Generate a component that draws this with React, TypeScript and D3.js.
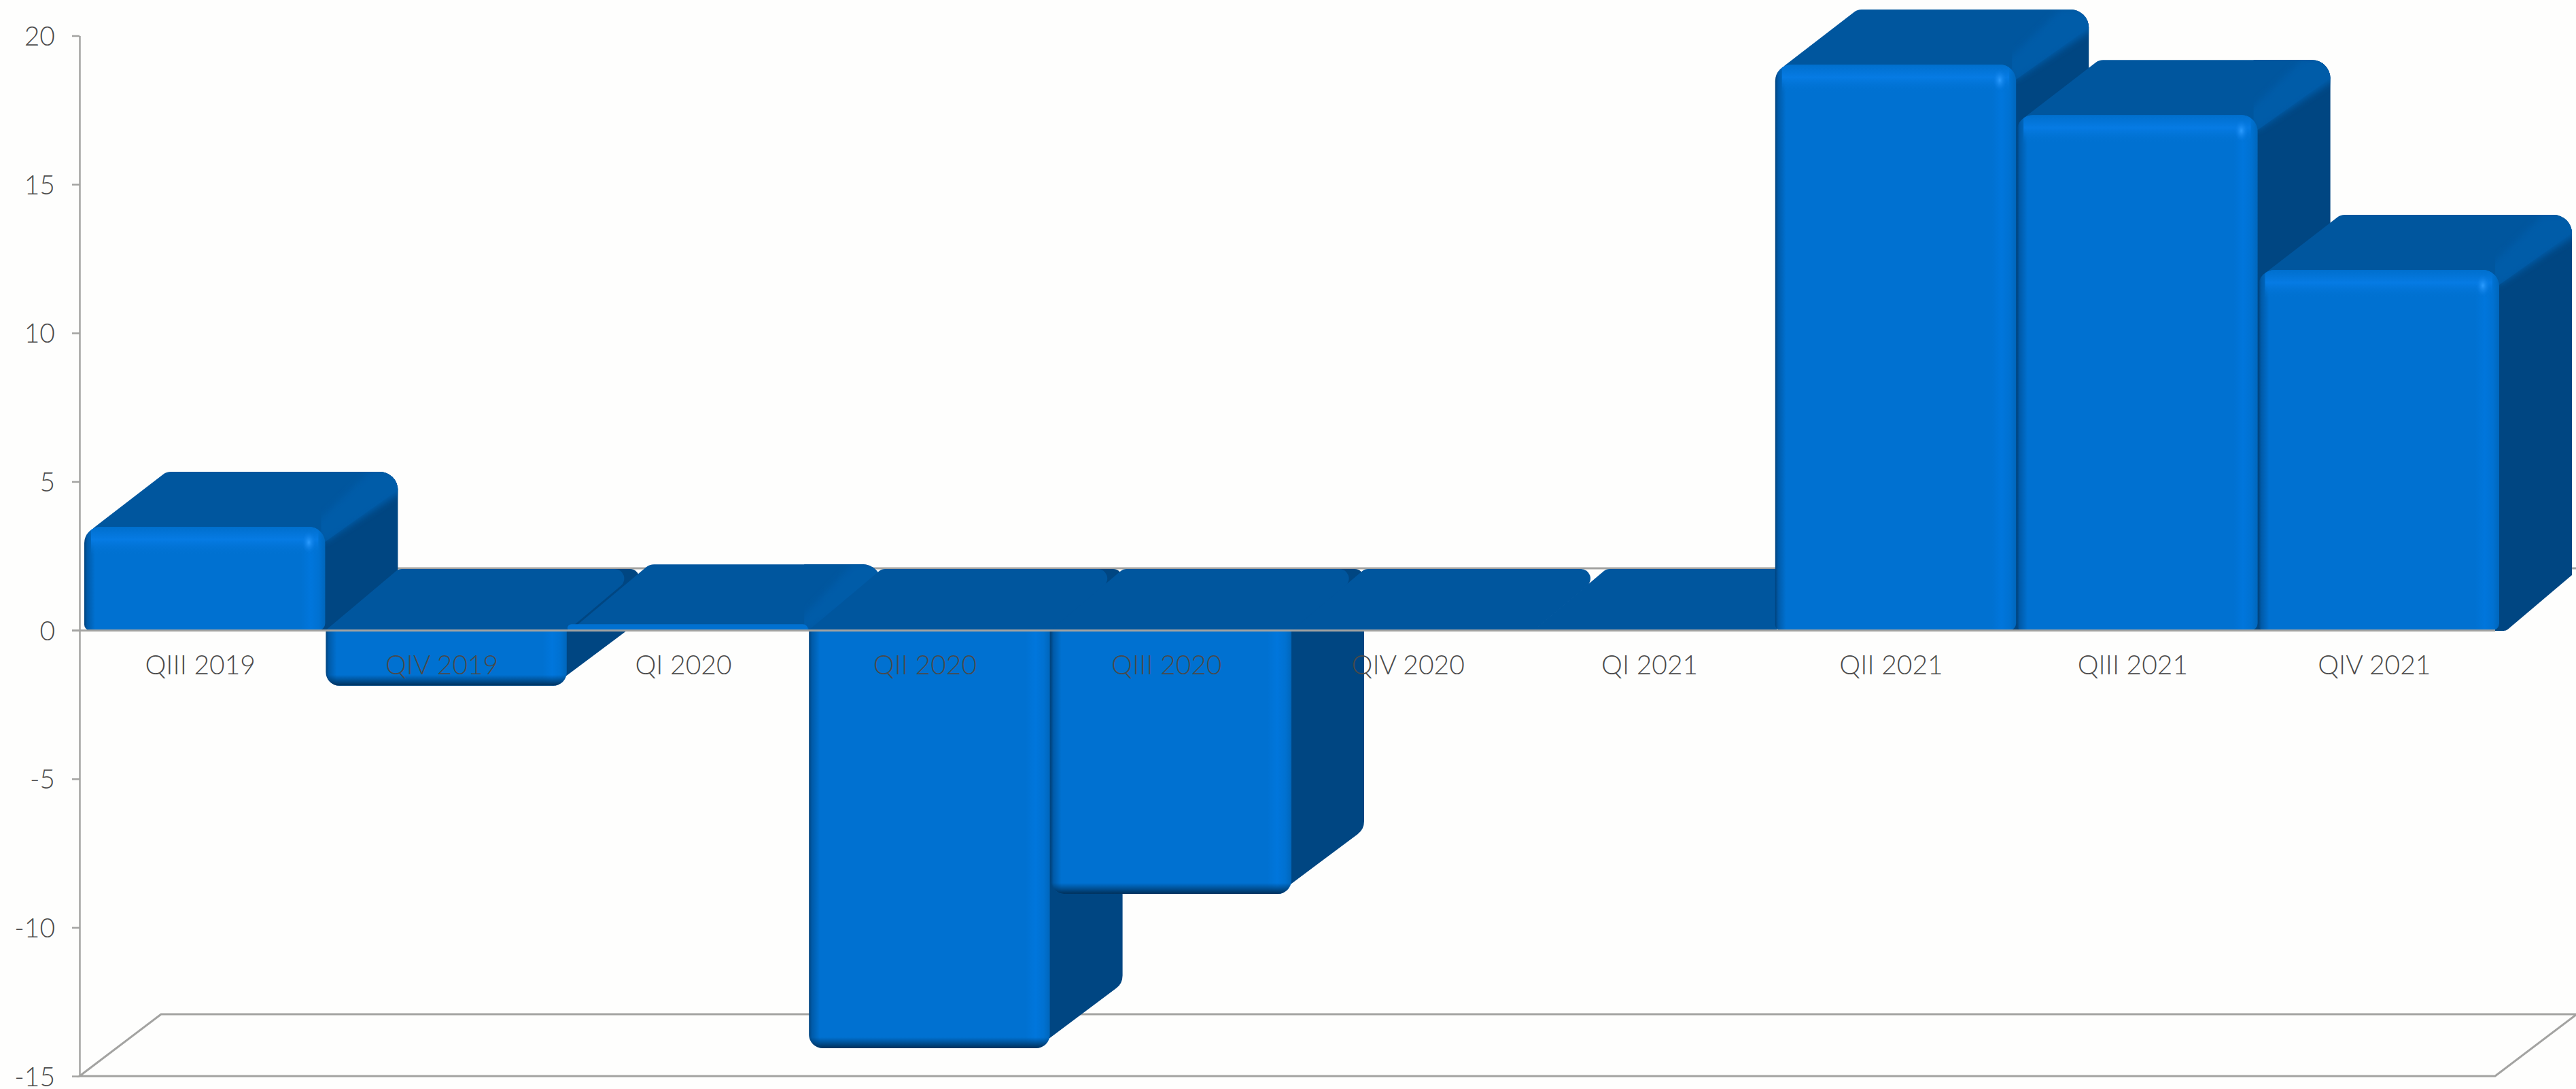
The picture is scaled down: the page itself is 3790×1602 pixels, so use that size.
import { useEffect, useRef } from 'react';
import * as d3 from 'd3';

const categories = ['QIII 2019', 'QIV 2019', 'QI 2020', 'QII 2020', 'QIII 2020', 'QIV 2020', 'QI 2021', 'QII 2021', 'QIII 2021', 'QIV 2021'];
const growth = [3.48, -1.87, 0.2, -14.06, -8.87, 0, 0, 19.03, 17.33, 12.12];
const yTicks = [20, 15, 10, 5, 0, -5, -10, -15];

const WIDTH = 3790;
const HEIGHT = 1602;
const FONT = 'Lato, sans-serif';
const TEXT = '#4a4a4a';
const LINE = '#a3a3a1';
const FRONT = '#0071d1';
const TOP = '#00569e';
const RIDGE = '#005ba8';
const SIDE = '#004682';

// depth of the fake 3d box
const floorDx = 120;
const floorDy = 91;
const barDx = 107;
const barOffset = 7;

type Pt = [number, number];

// closed polygon with rounded corners, r is per corner
function roundPoly(pts: Pt[], r: number[]) {
  const p = d3.path();
  const n = pts.length;
  const a = pts[n - 1];
  const b = pts[0];
  p.moveTo((a[0] + b[0]) / 2, (a[1] + b[1]) / 2);
  for (let i = 0; i < n; i++) {
    const c = pts[i];
    const d = pts[(i + 1) % n];
    p.arcTo(c[0], c[1], (c[0] + d[0]) / 2, (c[1] + d[1]) / 2, r[i]);
  }
  p.closePath();
  return p.toString();
}

export default function App() {
  const svgRef = useRef<SVGSVGElement>(null);

  useEffect(() => {
    if (!svgRef.current) return;
    const svg = d3.select(svgRef.current);
    const root = svg.select<SVGGElement>('g.chart');
    root.selectAll('*').remove();

    const x = d3.scaleBand<string>().domain(categories).range([117, 3671]);
    const y = d3.scaleLinear().domain([-15, 20]).range([1583, 52.5]);
    // top face gets a bit deeper as the bar gets close to zero
    const topDepth = d3.scaleLinear().domain([0, 1]).range([90, 81]).clamp(true);
    const y0 = y(0);
    const yMin = y(-15);
    const xL = x.range()[0];
    const xR = x.range()[1];

    // floor and back wall
    const wall = root.append('g').attr('stroke', LINE).attr('stroke-width', 3).attr('fill', 'none');
    wall.append('path').attr('d', `M${xL},${yMin}L${xL + floorDx},${yMin - floorDy}H${xR + floorDx}L${xR},${yMin}Z`);
    wall.append('line').attr('x1', xL + floorDx).attr('x2', xR + floorDx).attr('y1', y0 - floorDy).attr('y2', y0 - floorDy);

    // y axis
    const axis = root.append('g').attr('transform', `translate(${xL},0)`).call(
      d3.axisLeft(y).tickValues(yTicks).tickSize(11).tickSizeOuter(0).tickPadding(25).tickFormat((d) => String(d))
    );
    axis.select('.domain').attr('stroke', LINE).attr('stroke-width', 2.5);
    axis.selectAll('.tick line').attr('stroke', LINE).attr('stroke-width', 2.5);
    axis.selectAll('.tick text')
      .attr('fill', TEXT).attr('font-family', FONT).attr('font-size', 39).attr('font-weight', 300).attr('dy', '0.36em');

    // bars, painted left to right so each one covers the side of the previous
    categories.forEach((cat, i) => {
      const v = growth[i];
      const bw = x.step() - 1;
      const x0 = (x(cat) as number) + barOffset;
      const x1 = x0 + bw;
      const yv = y(v);
      const g = root.append('g');
      const clipId = `front-${i}`;

      if (v > 0) {
        const dy = topDepth(v);
        const back = yv - dy;
        const shoulder = Math.min(yv + 22, y0);
        const sideShape = roundPoly(
          [[x1 - 6, yv], [x1 - 6, back], [x1 + barDx, back], [x1 + barDx, y0 - 81], [x1 + 10, y0 + 1], [x1 - 6, y0 + 1]],
          [0, 0, 27, 0, 10, 0]
        );
        g.append('path').attr('fill', SIDE).attr('d', sideShape);
        g.append('path')
          .attr('fill', TOP)
          .attr('d', roundPoly(
            [[x0 + 12, yv + 3], [x0 + 121, back], [x1 + barDx, back], [x1 + barDx, back + 27], [x1, shoulder], [x0 + 12, shoulder]],
            [4, 18, 27, 0, 0, 0]
          ));
        // lighter band along the edge, blurred and kept inside the box
        g.append('clipPath').attr('id', `ridge-${i}`).append('path').attr('d', sideShape);
        g.append('g').attr('clip-path', `url(#ridge-${i})`)
          .append('path')
          .attr('fill', RIDGE)
          .attr('filter', 'url(#soft)')
          .attr('d', `M${x1 - 19},${yv}L${x1 + barDx - 42},${back}H${x1 + barDx + 10}V${back + 27}L${x1},${shoulder}Z`);
        if (v > 1) {
          const front = roundPoly([[x0, yv], [x1, yv], [x1, y0], [x0, y0]], [24, 24, 10, 8]);
          g.append('clipPath').attr('id', clipId).append('path').attr('d', front);
          g.append('path').attr('d', front).attr('fill', 'url(#frontX)');
          g.append('rect').attr('clip-path', `url(#${clipId})`)
            .attr('x', x0 + 10).attr('y', yv).attr('width', bw - 20).attr('height', 42)
            .attr('fill', 'url(#bevelTop)');
          g.append('ellipse')
            .attr('cx', x1 - 24).attr('cy', yv + 23).attr('rx', 10).attr('ry', 16)
            .attr('fill', 'url(#spot)');
        } else {
          // thin sliver, almost flat
          g.append('path').attr('fill', FRONT)
            .attr('d', roundPoly([[x0, yv], [x1, yv], [x1, y0], [x0, y0]], [6, 8, 4, 4]));
        }
      } else {
        const back = y0 - 90;
        if (v < 0) {
          const yb = y(v);
          g.append('path')
            .attr('fill', SIDE)
            .attr('d', roundPoly(
              [[x1 - 20, back], [x1 + barDx, back], [x1 + barDx, yb - 95], [x1 - 20, yb]],
              [0, 14, 24, 0]
            ));
        }
        g.append('path')
          .attr('fill', TOP)
          .attr('d', roundPoly([[x0, y0], [x0 + barDx, back], [x1 + barDx + 2, back], [x1 + 2, y0]], [0, 14, 14, 0]));
        if (v < 0) {
          const yb = y(v);
          const front = roundPoly([[x0, y0], [x1, y0], [x1, yb], [x0, yb]], [0, 0, 20, 20]);
          g.append('clipPath').attr('id', clipId).append('path').attr('d', front);
          g.append('path').attr('d', front).attr('fill', 'url(#frontX)');
          g.append('rect').attr('clip-path', `url(#${clipId})`)
            .attr('x', x0).attr('y', yb - 16).attr('width', bw).attr('height', 16)
            .attr('fill', 'url(#bevelBottom)');
        }
      }
    });

    // zero line sits on top of the bars
    root.append('line')
      .attr('x1', xL - 11).attr('x2', xR).attr('y1', y0 + 0.5).attr('y2', y0 + 0.5)
      .attr('stroke', LINE).attr('stroke-width', 3);

    // category labels, also on top of the bars
    root.append('g').selectAll('text').data(categories).join('text')
      .attr('x', (d) => (x(d) as number) + x.step() / 2)
      .attr('y', 992)
      .attr('text-anchor', 'middle')
      .attr('fill', TEXT)
      .attr('font-family', FONT)
      .attr('font-size', 39)
      .attr('font-weight', 300)
      .text((d) => d);
  }, []);

  return (
    <svg
      ref={svgRef}
      width={WIDTH}
      height={HEIGHT}
      viewBox={`0 0 ${WIDTH} ${HEIGHT}`}
      style={{ position: 'absolute', left: 0, top: 0, display: 'block' }}
    >
      <defs>
        <linearGradient id="frontX" x1="0" x2="1" y1="0" y2="0">
          <stop offset="0" stopColor="#00427c" />
          <stop offset="0.012" stopColor="#005aa8" />
          <stop offset="0.045" stopColor={FRONT} />
          <stop offset="0.9" stopColor={FRONT} />
          <stop offset="0.94" stopColor="#0076dc" />
          <stop offset="0.975" stopColor="#0071d1" />
          <stop offset="1" stopColor="#0066bb" />
        </linearGradient>
        <linearGradient id="bevelTop" x1="0" x2="0" y1="0" y2="1">
          <stop offset="0" stopColor="#006fcd" stopOpacity="1" />
          <stop offset="0.45" stopColor="#067be4" stopOpacity="1" />
          <stop offset="1" stopColor={FRONT} stopOpacity="0" />
        </linearGradient>
        <linearGradient id="bevelBottom" x1="0" x2="0" y1="0" y2="1">
          <stop offset="0" stopColor="#00335f" stopOpacity="0" />
          <stop offset="1" stopColor="#00305a" stopOpacity="1" />
        </linearGradient>
        <radialGradient id="spot">
          <stop offset="0" stopColor="#2c9cff" />
          <stop offset="1" stopColor="#0a7de6" stopOpacity="0" />
        </radialGradient>
        <filter id="soft" x="-10%" y="-10%" width="120%" height="120%">
          <feGaussianBlur stdDeviation="5" />
        </filter>
      </defs>
      <rect width={WIDTH} height={HEIGHT} fill="#fefefd" />
      <g className="chart" />
    </svg>
  );
}
